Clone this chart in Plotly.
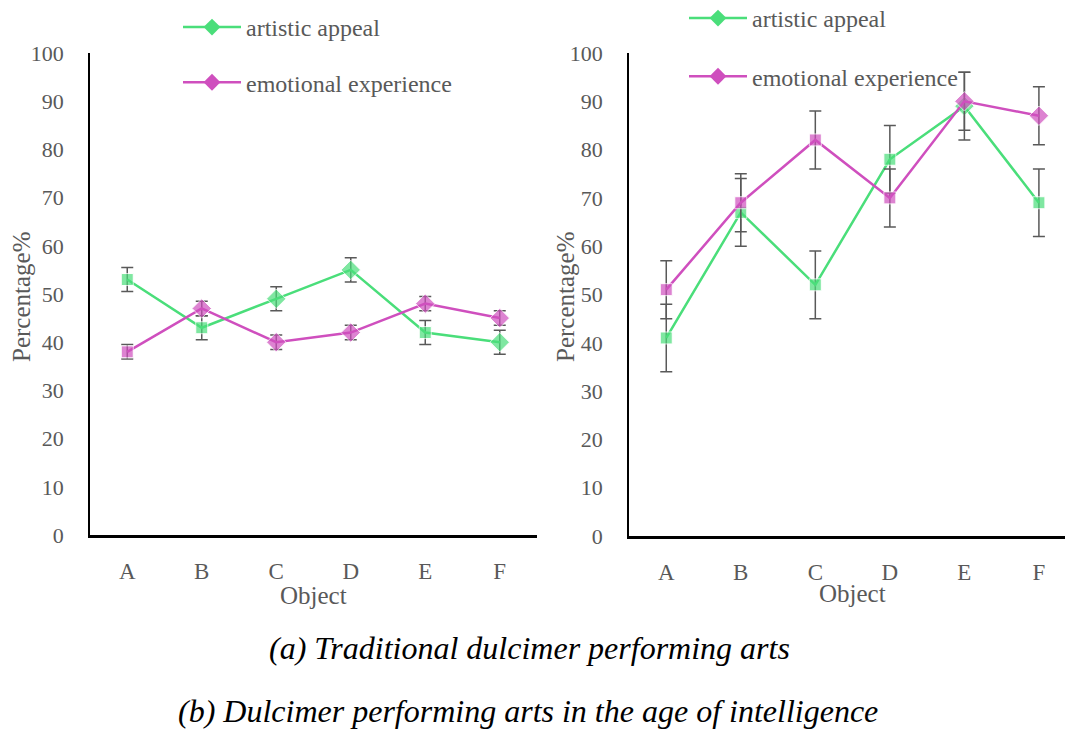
import plotly.graph_objects as go

categories = ["A", "B", "C", "D", "E", "F"]

# (a) Traditional dulcimer performing arts
trad_artistic = [53, 43, 49, 55, 42, 40]
trad_artistic_err = [2.5, 2.5, 2.5, 2.5, 2.5, 2.5]
trad_emotional = [38, 47, 40, 42, 48, 45]
trad_emotional_err = [1.5, 1.5, 1.5, 1.5, 1.5, 1.5]

# (b) Dulcimer performing arts in the age of intelligence
smart_artistic = [41, 67, 52, 78, 89, 69]
smart_artistic_err = [7, 7, 7, 7, 7, 7]
smart_emotional = [51, 69, 82, 70, 90, 87]
smart_emotional_err = [6, 6, 6, 6, 6, 6]

series_names = ["artistic appeal", "emotional experience"]
y_ticks = [0, 10, 20, 30, 40, 50, 60, 70, 80, 90, 100]

GREEN = "#4ADE7A"
PINK = "#CF4FBE"
GRAY = "#595959"
FONT = "Liberation Serif, Times New Roman, serif"

W, H = 1065, 731

sym_trad_a = ["square", "square", "diamond", "diamond", "square", "diamond"]
sym_trad_e = ["square", "diamond", "diamond", "diamond", "diamond", "diamond"]
sym_smart_a = ["square", "square", "square", "square", "diamond", "square"]
sym_smart_e = ["square", "square", "square", "square", "diamond", "diamond"]


def err(arr):
    return dict(type="data", array=arr, color=GRAY, thickness=1.5, width=6)


def size_for(symbols):
    return [12 if s == "square" else 15 for s in symbols]


fig = go.Figure()

# data traces (no legend)
for x_ax, y_ax, vals, errs, syms, col in [
    ("x", "y", trad_artistic, trad_artistic_err, sym_trad_a, GREEN),
    ("x", "y", trad_emotional, trad_emotional_err, sym_trad_e, PINK),
    ("x2", "y2", smart_artistic, smart_artistic_err, sym_smart_a, GREEN),
    ("x2", "y2", smart_emotional, smart_emotional_err, sym_smart_e, PINK),
]:
    fig.add_trace(go.Scatter(
        x=categories, y=vals, xaxis=x_ax, yaxis=y_ax,
        mode="lines+markers", showlegend=False,
        line=dict(color=col, width=2.5),
        marker=dict(color=col, symbol=syms, size=size_for(syms)),
        error_y=err(errs),
    ))

# legend entries
for leg, x_ax, y_ax in [("legend", "x", "y"), ("legend2", "x2", "y2")]:
    for name, col in zip(series_names, [GREEN, PINK]):
        fig.add_trace(go.Scatter(
            x=[None], y=[None], xaxis=x_ax, yaxis=y_ax,
            mode="lines+markers", name=name, legend=leg,
            legendgroup=leg + name,
            line=dict(color=col, width=2.5),
            marker=dict(color=col, symbol="diamond", size=13),
        ))

tickfont = dict(family=FONT, size=22, color=GRAY)
catfont = dict(family=FONT, size=23, color=GRAY)

common_y = dict(
    range=[0, 100], tickvals=y_ticks, showgrid=False, zeroline=False,
    showline=True, linecolor="black", linewidth=1.5, ticks="",
    tickfont=tickfont, ticklabelstandoff=20, fixedrange=True, automargin=False,
)
common_x = dict(
    type="category", showgrid=False, zeroline=False, showline=True,
    linecolor="black", linewidth=2.5, ticks="", tickfont=catfont,
    ticklabelstandoff=14, automargin=False,
)

fig.update_layout(
    width=W, height=H,
    margin=dict(l=0, r=0, t=0, b=0, autoexpand=False),
    paper_bgcolor="white", plot_bgcolor="white",
    xaxis=dict(common_x, domain=[90 / W, 537 / W], range=[-0.5, 5.5], anchor="y"),
    yaxis=dict(common_y, domain=[1 - 535 / H, 1 - 53 / H], anchor="x"),
    xaxis2=dict(common_x, domain=[629 / W, 1.0], range=[-0.5, 5.35], anchor="y2"),
    yaxis2=dict(common_y, domain=[1 - 536 / H, 1 - 53 / H], anchor="x2"),
    legend=dict(
        x=178 / W, y=1 - 5 / H, xanchor="left", yanchor="top",
        font=dict(family=FONT, size=24, color=GRAY),
        bgcolor="rgba(0,0,0,0)", itemwidth=58, tracegroupgap=21,
    ),
    legend2=dict(
        x=684 / W, y=1 + 4 / H, xanchor="left", yanchor="top",
        font=dict(family=FONT, size=24, color=GRAY),
        bgcolor="rgba(0,0,0,0)", itemwidth=58, tracegroupgap=24,
    ),
    showlegend=True,
)

titlefont = dict(family=FONT, size=25, color=GRAY)
capfont = dict(family=FONT, size=32, color="black")
annotations = [
    # axis titles
    dict(text="Object", x=313 / W, y=1 - 595 / H, xref="paper", yref="paper",
         xanchor="center", yanchor="middle", showarrow=False, font=titlefont),
    dict(text="Object", x=852 / W, y=1 - 593 / H, xref="paper", yref="paper",
         xanchor="center", yanchor="middle", showarrow=False, font=titlefont),
    dict(text="Percentage%", x=22 / W, y=1 - 297 / H, xref="paper", yref="paper",
         xanchor="center", yanchor="middle", showarrow=False, textangle=-90, font=titlefont),
    dict(text="Percentage%", x=566 / W, y=1 - 297 / H, xref="paper", yref="paper",
         xanchor="center", yanchor="middle", showarrow=False, textangle=-90, font=titlefont),
    # captions
    dict(text="<i>(a) Traditional dulcimer performing arts</i>", x=529 / W, y=1 - 648 / H,
         xref="paper", yref="paper", xanchor="center", yanchor="middle",
         showarrow=False, font=capfont),
    dict(text="<i>(b) Dulcimer performing arts in the age of intelligence</i>", x=528 / W,
         y=1 - 711 / H, xref="paper", yref="paper", xanchor="center", yanchor="middle",
         showarrow=False, font=capfont),
]
fig.update_layout(annotations=annotations)

fig.write_html("out.html")
